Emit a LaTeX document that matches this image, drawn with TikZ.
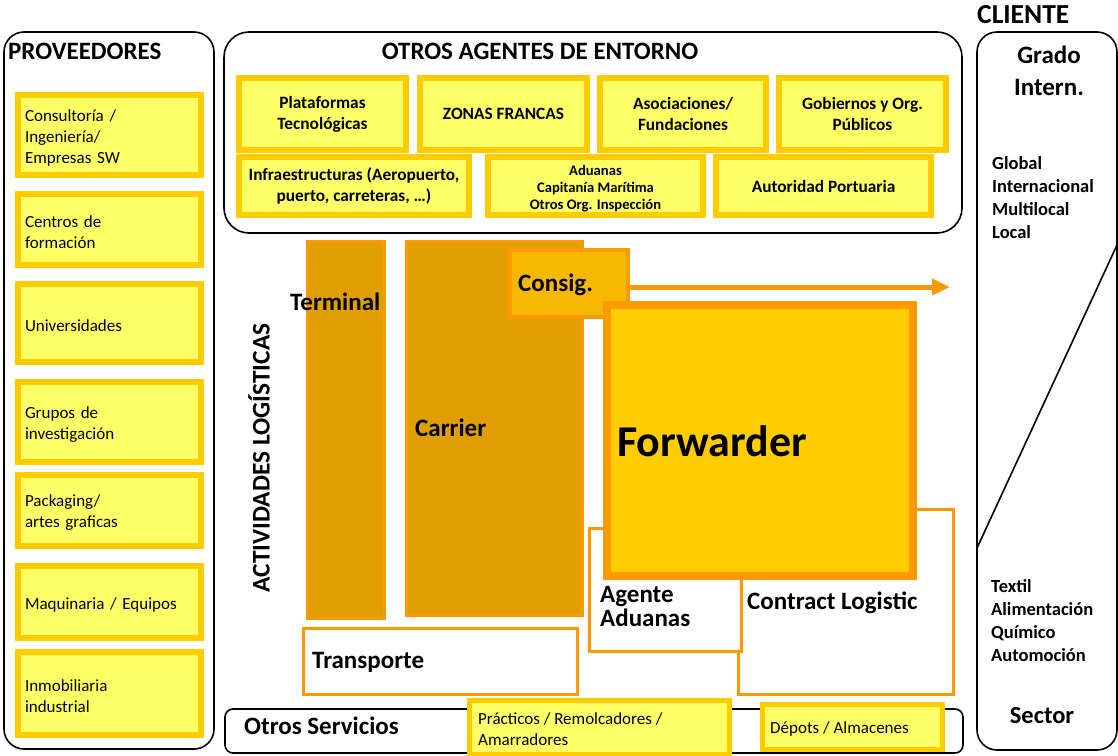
\documentclass[tikz,border=0pt]{standalone}
\usepackage{fontspec}
\setmainfont{Carlito}
\usetikzlibrary{arrows.meta}
\definecolor{yfill}{HTML}{FFFF66}
\definecolor{yline}{HTML}{FFCC00}
\definecolor{oline}{HTML}{FF9900}
\definecolor{dgold}{HTML}{E09E00}
\definecolor{cgold}{HTML}{F6B800}
\definecolor{fgold}{HTML}{FFCC00}
\newcommand{\fs}[2]{\fontsize{#1}{#2}\selectfont}
\begin{document}
\begin{tikzpicture}[x=1pt,y=-1pt,
  ybox/.style={draw=yline, fill=yfill, line width=6pt, anchor=north west, inner sep=0pt, align=center, font=\bfseries\fs{17.3}{21}},
  pbox/.style={draw=yline, fill=yfill, line width=6pt, anchor=north west, inner sep=0pt, minimum width=183pt},
  ptxt/.style={text width=169pt, align=left, inner sep=0pt, yshift=-2.5pt, font=\fs{17}{21}},
  sbox/.style={draw=yline, fill=yfill, line width=5pt, anchor=north west, inner sep=0pt},
  stxt/.style={anchor=west, align=left, inner sep=0pt, font=\fs{17}{21}},
  obox/.style={draw=oline, line width=3pt, anchor=north west, inner sep=0pt},
  frame/.style={draw=black, line width=1.6pt},
  lbl/.style={anchor=west, inner sep=0pt, font=\bfseries\fs{25}{25}, align=left},
  ttl/.style={inner sep=0pt, font=\bfseries\fs{25}{28}},
  lst/.style={anchor=west, inner sep=0pt, align=left, font=\bfseries\fs{18.5}{23}}]
\useasboundingbox (0,0) rectangle (1118,755);
% frames
\draw[frame, rounded corners=20pt] (4,32) rectangle (214,749);
\draw[frame, rounded corners=25pt] (224,32) rectangle (962,233);
\draw[frame, rounded corners=20pt] (977,32) rectangle (1117,750);
\draw[frame, rounded corners=8pt] (225,709) rectangle (963,753);
% titles
\node[ttl, anchor=west] (prov) at (8,51) {PROVEEDORES};
\node[ttl] (otros) at (540,51) {OTROS AGENTES DE ENTORNO};
\node[ttl, anchor=west, font=\bfseries\fs{27.5}{28}] (cli) at (977,15) {CLIENTE};
\node[ttl, align=center, font=\bfseries\fs{25}{32}] (grado) at (1049,71) {Grado\\Intern.};
\node[lst] (glob) at (992,198) {Global\\Internacional\\Multilocal\\Local};
\node[lst] (sect) at (991,621) {Textil\\Alimentación\\Químico\\Automoción};
\node[ttl, font=\bfseries\fs{24.5}{26}] (sector) at (1042,716) {Sector};
\coordinate (d1) at (1117,245);
\coordinate (d2) at (977,548);
\draw[line width=1.6pt] (d1) -- (d2);
% proveedores
\node[pbox, minimum height=80pt, label={[ptxt]center:{Consultoría /\\Ingeniería/\\Empresas SW}}] (p1) at (15,92) {};
\node[pbox, minimum height=71pt, label={[ptxt]center:{Centros de\\formación}}] (p2) at (15,191) {};
\node[pbox, minimum height=78pt, label={[ptxt]center:{Universidades}}] (p3) at (15,281) {};
\node[pbox, minimum height=80pt, label={[ptxt]center:{Grupos de\\investigación}}] (p4) at (15,379) {};
\node[pbox, minimum height=71pt, label={[ptxt]center:{Packaging/\\artes graficas}}] (p5) at (15,472) {};
\node[pbox, minimum height=72pt, label={[ptxt]center:{Maquinaria / Equipos}}] (p6) at (15,563) {};
\node[pbox, minimum height=83pt, label={[ptxt]center:{Inmobiliaria\\industrial}}] (p7) at (15,649) {};
% otros agentes
\node[ybox, minimum width=167pt, minimum height=72pt] (a1) at (236,75) {Plataformas\\Tecnológicas};
\node[ybox, minimum width=167pt, minimum height=72pt] (a2) at (417,75) {ZONAS FRANCAS};
\node[ybox, minimum width=166pt, minimum height=72pt] (a3) at (597,75) {Asociaciones/\\Fundaciones};
\node[ybox, minimum width=167pt, minimum height=72pt] (a4) at (776,75) {Gobiernos y Org.\\Públicos};
\node[ybox, minimum width=230pt, minimum height=58pt] (a5) at (236,154) {Infraestructuras (Aeropuerto,\\puerto, carreteras, …)};
\node[ybox, minimum width=215pt, minimum height=58pt] (a6) at (485,154) {};
\node[inner sep=0pt, align=center, yshift=-2.5pt, font=\bfseries\fs{14.6}{17}] (a6t) at (a6.center) {Aduanas\\Capitanía Marítima\\Otros Org. Inspección};
\node[ybox, minimum width=215pt, minimum height=58pt] (a7) at (713,154) {Autoridad Portuaria};
% actividades
\node[ttl, rotate=90, font=\bfseries\fs{25.4}{26}] (act) at (259,458) {ACTIVIDADES LOGÍSTICAS};
\node[obox, fill=dgold, minimum width=77pt, minimum height=377pt] (term) at (306,240) {};
\node[obox, fill=dgold, minimum width=176pt, minimum height=374pt] (carr) at (405,240) {};
\node[obox, fill=white, minimum width=215pt, minimum height=185pt] (contr) at (737,508) {};
\node[obox, fill=white, minimum width=152pt, minimum height=123pt] (agen) at (588,527) {};
\node[obox, fill=white, minimum width=274pt, minimum height=66pt] (trans) at (302,627) {};
\node[obox, fill=cgold, line width=4pt, minimum width=118pt, minimum height=67pt] (cons) at (508,248) {};
\coordinate (arrowend) at (950,287);
\draw[oline, line width=5pt, -{Triangle[length=18pt,width=16pt]}] (cons.east |- arrowend) -- (arrowend);
\node[obox, fill=fgold, line width=8pt, minimum width=306pt, minimum height=271pt] (fwd) at (603,301) {};
\node[lbl] (termt) at (290,302) {Terminal};
\node[lbl] (carrt) at (415,428) {Carrier};
\node[lbl] (const) at (518,285) {Consig.};
\node[lbl, font=\bfseries\fs{44}{46}] (fwdt) at (617,441) {Forwarder};
\node[lbl, font=\bfseries\fs{25}{24}] (agent) at (600,606) {Agente\\Aduanas};
\node[lbl] (contrt) at (747,603) {Contract Logistic};
\node[lbl] (transt) at (312,662) {Transporte};
% otros servicios
\node[lbl] (oserv) at (244,726) {Otros Servicios};
\node[sbox, minimum width=260pt, minimum height=54pt] (s1) at (467,698) {};
\node[stxt] (s1t) at (478,729.5) {Prácticos / Remolcadores /\\Amarradores};
\node[sbox, minimum width=180pt, minimum height=45pt] (s2) at (760,702) {};
\node[stxt] (s2t) at (770,728.5) {Dépots / Almacenes};
\end{tikzpicture}
\end{document}
